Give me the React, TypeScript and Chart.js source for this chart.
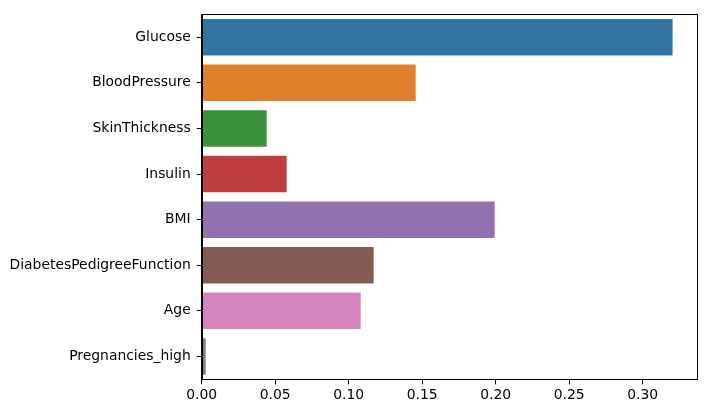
import React, { useEffect, useRef } from "react";
import { Chart, registerables } from "chart.js";

Chart.register(...registerables);

const categories = [
  "Glucose",
  "BloodPressure",
  "SkinThickness",
  "Insulin",
  "BMI",
  "DiabetesPedigreeFunction",
  "Age",
  "Pregnancies_high",
];
const importances = [0.3204, 0.1456, 0.0442, 0.0578, 0.1993, 0.117, 0.1082, 0.0027];
const barColors = ["#3274a1", "#e1812c", "#3a923a", "#c03d3e", "#9372b2", "#845b53", "#d684bd", "#7f7f7f"];
const xTickValues = [0, 0.05, 0.1, 0.15, 0.2, 0.25, 0.3];
const xMax = 0.337;

const frame = {
  id: "frame",
  afterDraw(chart: any) {
    const { ctx, chartArea } = chart;
    ctx.save();
    ctx.strokeStyle = "#000";
    ctx.lineWidth = 1;
    ctx.strokeRect(
      Math.round(chartArea.left) + 0.5,
      Math.round(chartArea.top) + 0.5,
      Math.round(chartArea.right - chartArea.left),
      Math.round(chartArea.bottom - chartArea.top)
    );
    ctx.restore();
  },
};

export default function App() {
  const ref = useRef<HTMLCanvasElement>(null);
  useEffect(() => {
    document.body.style.margin = "0";
    const font = { family: "DejaVu Sans", size: 13.9 };
    const chart = new Chart(ref.current!, {
      type: "bar",
      data: {
        labels: categories,
        datasets: [
          {
            data: importances,
            backgroundColor: barColors,
            borderWidth: 0,
            categoryPercentage: 1,
            barPercentage: 0.8,
          },
        ],
      },
      options: {
        indexAxis: "y",
        animation: false,
        responsive: false,
        devicePixelRatio: 1,
        layout: { padding: { left: 0, top: 10.7, right: 9, bottom: 0 } },
        plugins: { legend: { display: false }, tooltip: { enabled: false } },
        scales: {
          x: {
            type: "linear",
            min: 0,
            max: xMax,
            afterBuildTicks: (s: any) => {
              s.ticks = xTickValues.map((v) => ({ value: v }));
            },
            afterFit: (s: any) => {
              s.height = 33.7;
            },
            ticks: {
              color: "#000",
              font,
              padding: 3,
              maxRotation: 0,
              callback: (v: any) => Number(v).toFixed(2),
            },
            grid: { drawOnChartArea: false, drawTicks: true, tickLength: 5, color: "#000" },
            border: { display: true, color: "#000" },
          },
          y: {
            type: "category",
            afterFit: (s: any) => {
              s.width = 201.7;
            },
            ticks: { color: "#000", font, padding: 6 },
            grid: { drawOnChartArea: false, drawTicks: true, tickLength: 5, color: "#000", offset: false },
            border: { display: true, color: "#000" },
          },
        },
      },
      plugins: [frame],
    });
    return () => chart.destroy();
  }, []);
  return <canvas ref={ref} width={706} height={413} style={{ display: "block" }} />;
}
